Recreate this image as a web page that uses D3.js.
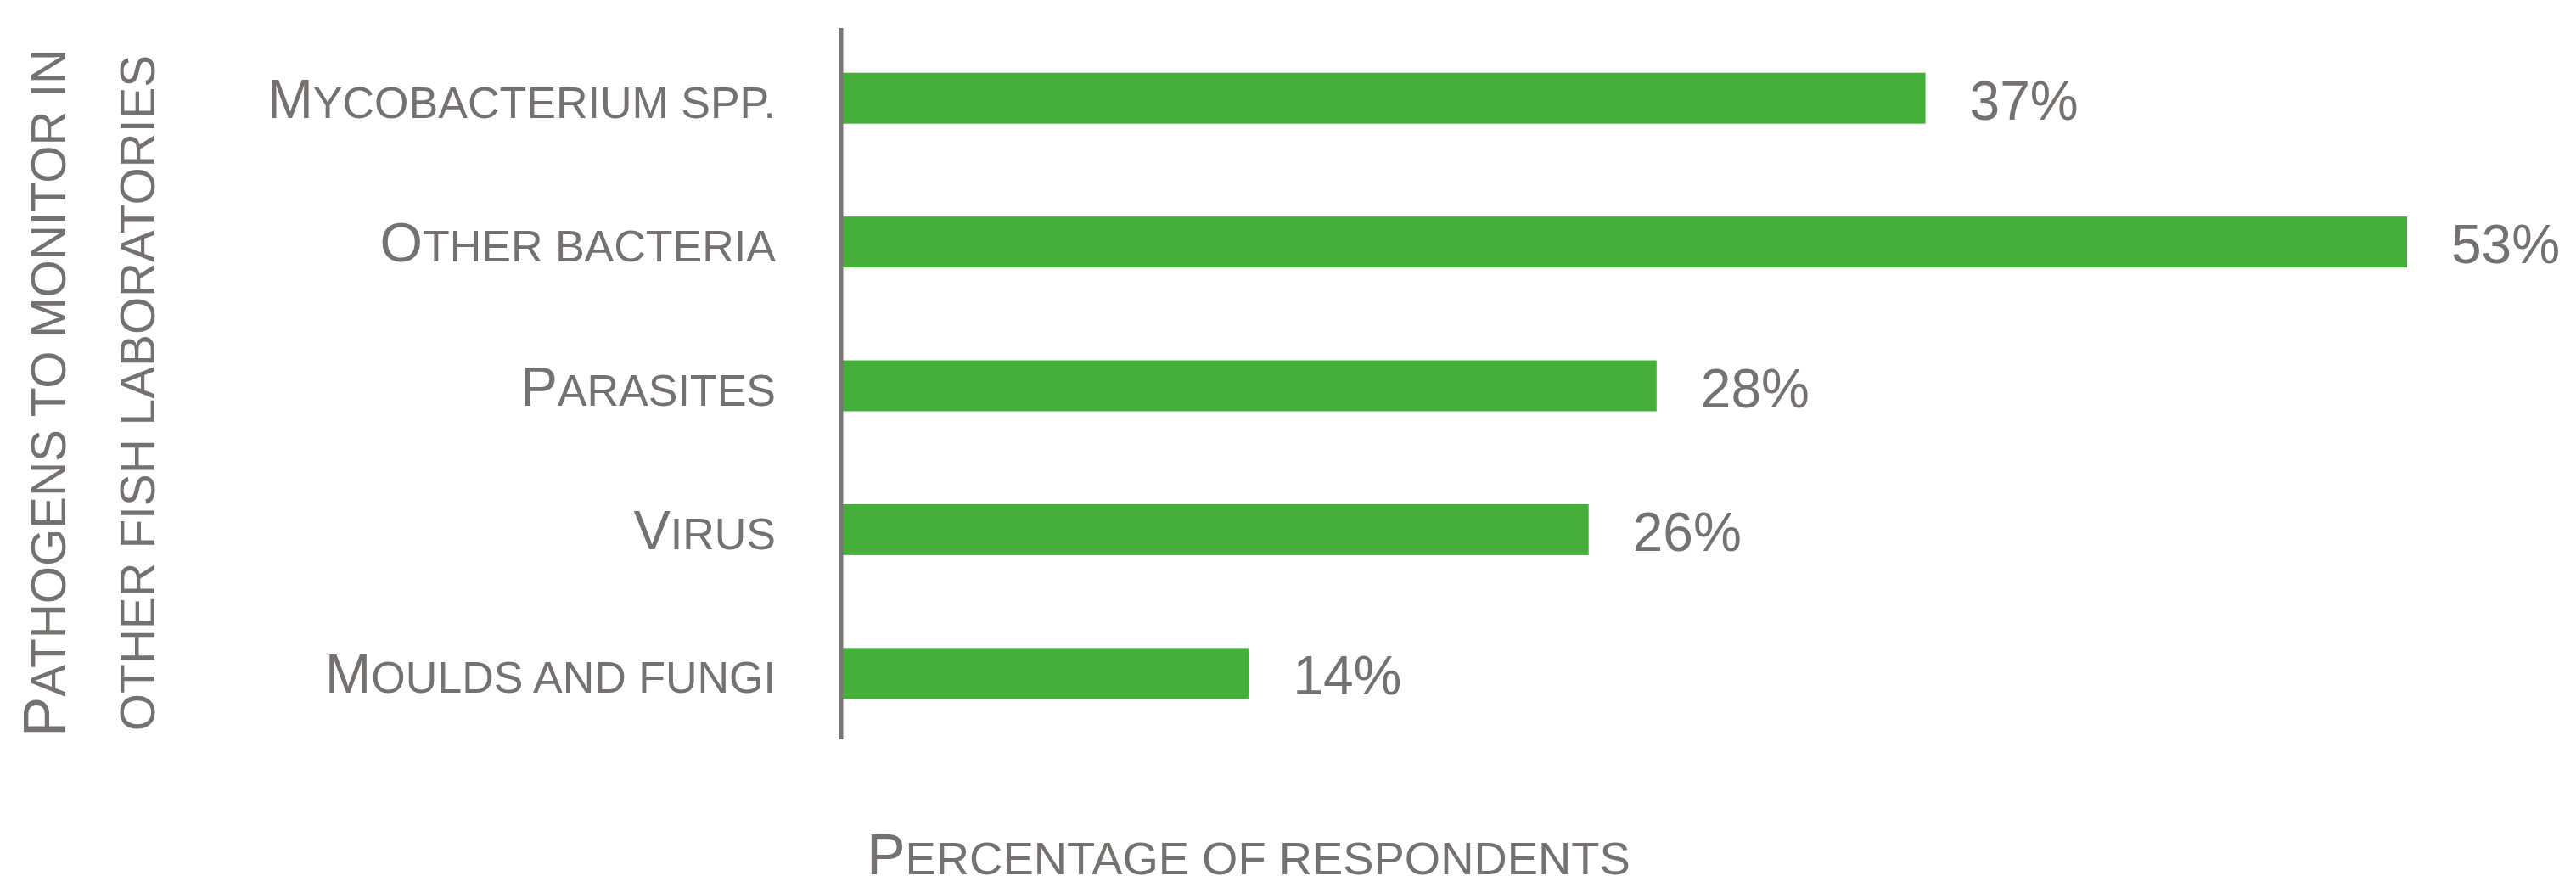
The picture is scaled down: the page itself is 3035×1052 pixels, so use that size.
<!DOCTYPE html>
<html>
<head>
<meta charset="utf-8">
<script src="https://cdn.jsdelivr.net/npm/d3@7"></script>
<style>
  html, body { margin: 0; padding: 0; background: #ffffff; }
  svg { display: block; }
  text { font-family: "Liberation Sans", Arial, sans-serif; fill: #767171; }
</style>
</head>
<body>
<svg id="chart" width="3035" height="1052"></svg>
<script>
// ---- data ----
const categories = ["Mycobacterium spp.", "Other bacteria", "Parasites", "Virus", "Moulds and fungi"];
const values = [36.7, 53.0, 27.6, 25.3, 13.8];
const valueLabels = ["37%", "53%", "28%", "26%", "14%"];
const yTitleLines = ["Pathogens to monitor in", "other fish laboratories"];
const xTitle = "Percentage of respondents";

// ---- layout ----
const axisX = 991;
const svg = d3.select("#chart");

const x = d3.scaleLinear().domain([0, 53]).range([axisX, 2836]);
const y = d3.scaleBand().domain(categories).range([31, 878])
  .paddingInner(0.646).paddingOuter(0.323);

const barColor = "#46AF3C";

// small caps helper: lowercase letters become smaller uppercase
function smallCaps(sel, text, ratio) {
  const runs = [];
  for (const ch of text) {
    const isLower = ch !== ch.toUpperCase();
    const isUpper = ch !== ch.toLowerCase();
    let type;
    if (isLower) type = "s";
    else if (isUpper) type = "b";
    else type = runs.length ? runs[runs.length - 1].type : "s";
    if (runs.length && runs[runs.length - 1].type === type) runs[runs.length - 1].t += ch;
    else runs.push({ type, t: ch });
  }
  runs.forEach(r => {
    const ts = sel.append("tspan").text(r.t);
    if (r.type === "s") {
      ts.attr("font-size", (ratio * 100) + "%").style("text-transform", "uppercase");
    }
  });
}

// bars
svg.append("g").selectAll("rect")
  .data(categories)
  .join("rect")
  .attr("x", x(0))
  .attr("y", d => y(d))
  .attr("width", (d, i) => x(values[i]) - x(0))
  .attr("height", y.bandwidth())
  .attr("fill", barColor);

// value labels
svg.append("g").selectAll("text")
  .data(categories)
  .join("text")
  .attr("x", (d, i) => x(values[i]) + 52)
  .attr("y", d => y(d) + y.bandwidth() / 2 + 25)
  .attr("font-size", 64)
  .text((d, i) => valueLabels[i]);

// category labels
svg.append("g").selectAll("text")
  .data(categories)
  .join("text")
  .attr("x", axisX - 77)
  .attr("y", d => y(d) + y.bandwidth() / 2 + 23)
  .attr("text-anchor", "end")
  .attr("font-size", 65)
  .each(function(d) { smallCaps(d3.select(this), d, 0.8); });

// y axis line
svg.append("line")
  .attr("x1", axisX).attr("x2", axisX)
  .attr("y1", 33).attr("y2", 871)
  .attr("stroke", "#7a7575")
  .attr("stroke-width", 5);

// y axis title
const yTitleX = [77, 182];
yTitleLines.forEach((line, i) => {
  const t = svg.append("text")
    .attr("transform", `translate(${yTitleX[i]},463) rotate(-90)`)
    .attr("text-anchor", "middle")
    .attr("font-size", 71);
  smallCaps(t, line, 0.8);
});

// x axis title
const xt = svg.append("text")
  .attr("x", 1471)
  .attr("y", 1030)
  .attr("text-anchor", "middle")
  .attr("font-size", 68);
smallCaps(xt, xTitle, 0.8);
</script>
</body>
</html>
